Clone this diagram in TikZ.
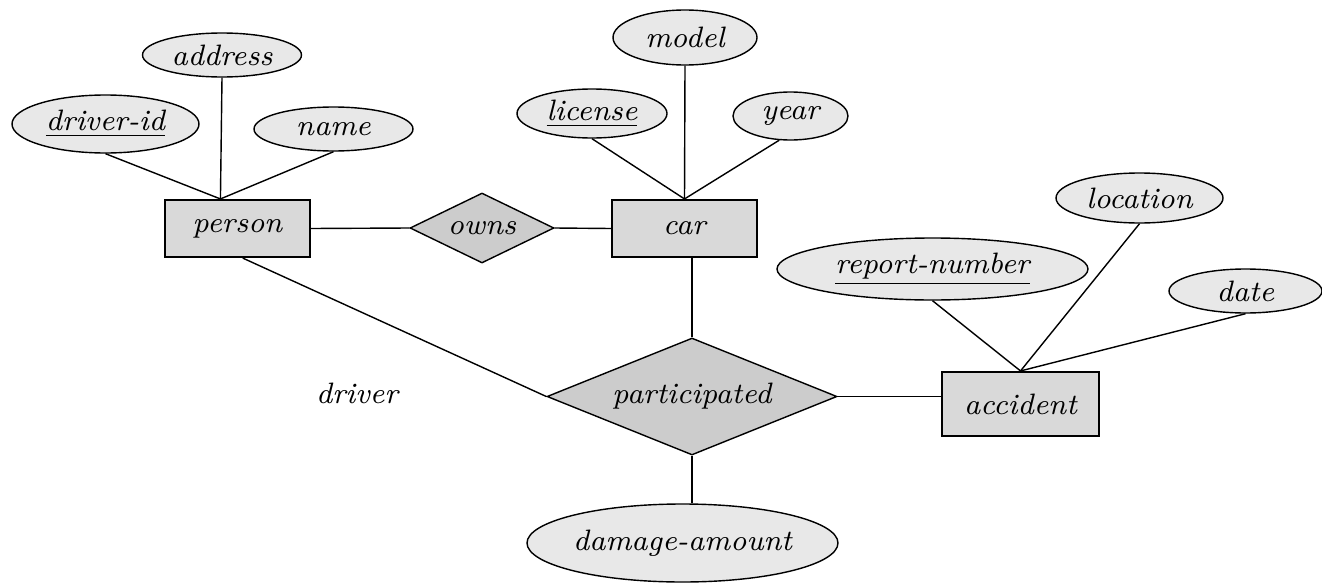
\documentclass[tikz,border=0pt]{standalone}
\usepackage{amsmath}
\usepackage{tikz}
\usetikzlibrary{shapes.geometric}

\tikzset{
  erfont/.style={font=\fontsize{8.4}{10}\selectfont\itshape},
  entity/.style={erfont,draw,line width=0.6pt,fill=gray!30,rectangle,inner sep=0pt},
  attrib/.style={erfont,draw,line width=0.4pt,fill=gray!18,ellipse,inner sep=0pt},
  rel/.style={erfont,draw,line width=0.4pt,fill=gray!40,diamond,aspect=2.5,inner sep=0pt},
  link/.style={line width=0.4pt}
}

\begin{document}
\begin{tikzpicture}
            \useasboundingbox (0,0) rectangle (13.22,-5.83);

            \node[entity,minimum width=1.45cm,minimum height=0.57cm] (person) at (2.375,-2.285) {person};
            \node[entity,minimum width=1.45cm,minimum height=0.57cm] (car) at (6.845,-2.285) {car};
            \node[entity,minimum width=1.57cm,minimum height=0.64cm] (accident) at (10.205,-4.04) {accident};

            \node[rel,minimum width=1.44cm,minimum height=0.70cm] (owns) at (4.82,-2.28) {owns};
            \node[rel,minimum width=2.90cm,minimum height=1.17cm] (participated) at (6.92,-3.965) {participated};

            \node[attrib,minimum width=1.87cm,minimum height=0.58cm] (driverid) at (1.055,-1.24) {\underline{driver-id}};
            \node[attrib,minimum width=1.59cm,minimum height=0.44cm] (address) at (2.22,-0.55) {address};
            \node[attrib,minimum width=1.59cm,minimum height=0.44cm] (name) at (3.335,-1.29) {name};

            \node[attrib,minimum width=1.50cm,minimum height=0.49cm] (license) at (5.92,-1.135) {\underline{license}};
            \node[attrib,minimum width=1.44cm,minimum height=0.55cm] (model) at (6.85,-0.375) {model};
            \node[attrib,minimum width=1.15cm,minimum height=0.48cm] (year) at (7.905,-1.16) {year};

            \node[attrib,minimum width=3.11cm,minimum height=0.62cm] (reportnumber) at (9.325,-2.69) {\underline{report-number}};
            \node[attrib,minimum width=1.67cm,minimum height=0.50cm] (location) at (11.395,-1.98) {location};
            \node[attrib,minimum width=1.53cm,minimum height=0.44cm] (date) at (12.455,-2.91) {date};

            \node[attrib,minimum width=3.11cm,minimum height=0.78cm] (damage) at (6.825,-5.43) {damage-amount};

            \node[erfont] (driver) at (3.57,-3.93) {driver};

            \draw[link] (driverid.south) -- (person.120);
            \draw[link] (address.south) -- (person.120);
            \draw[link] (name.south) -- (person.120);

            \draw[link] (license.south) -- (car.north);
            \draw[link] (model.south) -- (car.north);
            \draw[link] (year.245) -- (car.north);

            \draw[link] (reportnumber.south) -- (accident.north);
            \draw[link] (location.south) -- (accident.north);
            \draw[link] (date.south) -- (accident.north);

            \draw[link] (person.east) -- (owns.west);
            \draw[link] (owns.east) -- (car.west);

            \draw[link] (person.280) -- (participated.west);
            \draw[link] (participated.north) -- (participated.north |- car.south);
            \draw[link] (participated.east) -- (participated.east -| accident.west);
            \draw[link] (participated.south) -- (participated.south |- damage.north);
        \end{tikzpicture}
\end{document}
